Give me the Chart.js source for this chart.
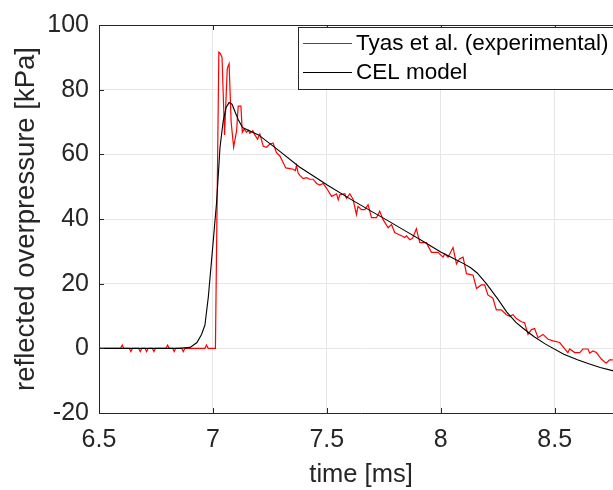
<!DOCTYPE html>
<html>
<head>
<meta charset="utf-8">
<script src="https://cdn.jsdelivr.net/npm/chart.js@4.4.1/dist/chart.umd.min.js"></script>
<style>
  html, body { margin: 0; padding: 0; overflow: hidden; background: #fff; }
  #wrap { width: 640px; height: 490px; }
</style>
</head>
<body>
<div id="wrap"><canvas id="chart" width="640" height="490"></canvas></div>
<script>
// Tyas et al. (experimental)
var expTime = [6.5, 6.595, 6.602, 6.609, 6.633, 6.64, 6.647, 6.674, 6.681, 6.688, 6.702, 6.709, 6.716,
    6.734, 6.741, 6.748, 6.794, 6.801, 6.808, 6.823, 6.83, 6.837, 6.863, 6.87, 6.877, 6.965, 6.972, 6.979,
    7.011, 7.026, 7.032, 7.040, 7.051, 7.063, 7.071, 7.080, 7.091, 7.104, 7.111, 7.123, 7.129, 7.137,
    7.148, 7.155, 7.162, 7.175, 7.184, 7.196, 7.206, 7.221, 7.236, 7.250, 7.264, 7.279, 7.294, 7.308,
    7.320, 7.338, 7.352, 7.362, 7.367, 7.374, 7.382, 7.396, 7.411, 7.425, 7.440, 7.455, 7.469, 7.484,
    7.499, 7.521, 7.543, 7.550, 7.557, 7.579, 7.586, 7.601, 7.615, 7.630, 7.637, 7.652, 7.667, 7.681,
    7.696, 7.718, 7.732, 7.747, 7.769, 7.784, 7.798, 7.813, 7.828, 7.842, 7.850, 7.864, 7.876, 7.893,
    7.908, 7.937, 7.959, 7.988, 8.010, 8.018, 8.032, 8.054, 8.069, 8.083, 8.098, 8.113, 8.142, 8.157,
    8.178, 8.193, 8.207, 8.229, 8.244, 8.266, 8.288, 8.303, 8.317, 8.332, 8.354, 8.368, 8.383, 8.398,
    8.412, 8.427, 8.449, 8.471, 8.493, 8.522, 8.558, 8.566, 8.588, 8.610, 8.624, 8.646, 8.654, 8.668,
    8.683, 8.705, 8.726, 8.741, 8.754, 8.8];
var expPressure = [0, 0, 1, 0, 0, -1, 0, 0, -1, 0, 0, -1, 0,
    0, -1, 0, 0, 1, 0, 0, -1, 0, 0, -1, 0, 0, 1, 0,
    0, 91.6, 91.2, 90, 66, 86.5, 88, 70, 62.2, 67.3, 74.9, 74.9, 66.8, 67.8,
    66.8, 67.5, 66.5, 67.3, 66.0, 64.7, 66.3, 62.5, 62.2, 63.2, 63.5, 60.5, 59.5, 57.5,
    55.8, 55.6, 55.4, 55.0, 56.6, 54.2, 53.5, 52.5, 52.8, 52.3, 52.3, 51.0, 50.5, 51.0,
    49.5, 47.0, 47.8, 45.9, 47.5, 47.8, 46.4, 47.8, 46.1, 41.4, 43.9, 42.9, 42.9, 44.4,
    40.4, 40.4, 42.4, 39.8, 37.3, 38.3, 35.8, 35.3, 34.8, 34.3, 34.8, 33.6, 34.0, 37.0,
    32.7, 32.7, 29.7, 29.7, 28.2, 29.2, 28.2, 31.2, 26.1, 27.7, 28.2, 23.1, 22.6, 18.5,
    19.6, 19.6, 16.5, 15.5, 11.9, 11.9, 10.4, 9.9, 10.4, 9.2, 8.2, 7.9, 4.3, 5.8,
    6.1, 3.3, 4.3, 2.8, 2.3, 1.8, -1.3, -0.2, -1.3, -1.3, -0.2, -0.2, -1.5, -0.8,
    -1.3, -3.3, -4.6, -3.6, -3.6, -3.0];

// CEL model
var celTime = [6.5, 6.85, 6.9, 6.93, 6.95, 6.965, 6.98, 7.0, 7.016, 7.031, 7.045, 7.058, 7.071, 7.084,
    7.098, 7.111, 7.13, 7.16, 7.2, 7.28, 7.38, 7.47, 7.5, 7.6, 7.7, 7.76, 7.85, 7.92, 8.0, 8.05, 8.1,
    8.13, 8.16, 8.2, 8.25, 8.29, 8.33, 8.36, 8.41, 8.46, 8.54, 8.6, 8.65, 8.7, 8.754, 8.8];
var celPressure = [0, 0, 0.3, 1.8, 4.3, 7.2, 16, 32, 45, 62, 70.3, 74.5, 76, 75.5,
    73, 70.8, 68.3, 67.3, 66, 61.7, 56.1, 52.0, 50.6, 46.3, 42.2, 39.8, 36.1, 33.2, 29.8, 28.0, 26.2,
    25.0, 23.3, 20.0, 15.3, 11.2, 8.0, 6.3, 3.6, 1.3, -1.8, -3.5, -4.8, -5.9, -6.9, -7.7];

var xTicks = [6.5, 7, 7.5, 8, 8.5];
var yTicks = [-20, 0, 20, 40, 60, 80, 100];
var seriesNames = ['Tyas et al. (experimental)', 'CEL model'];
var seriesColors = ['#ff0000', '#000000'];

var FONT = '"Liberation Sans", Arial, Helvetica, sans-serif';
var AXIS_COLOR = '#262626';

function toPoints(xs, ys) {
    return xs.map(function(x, i) { return { x: x, y: ys[i] }; });
}

// MATLAB style box: inner tick marks, top border, legend
var matlabBox = {
    id: 'matlabBox',
    afterDatasetsDraw: function(chart) {
        var ctx = chart.ctx;
        var a = chart.chartArea;
        var xs = chart.scales.x, ys = chart.scales.y;
        ctx.save();
        ctx.strokeStyle = AXIS_COLOR;
        ctx.lineWidth = 1;
        ctx.beginPath();
        ctx.moveTo(a.left, a.top + 0.5);
        ctx.lineTo(a.right, a.top + 0.5);
        xTicks.forEach(function(v) {
            var px = Math.round(xs.getPixelForValue(v)) + 0.5;
            ctx.moveTo(px, a.bottom);
            ctx.lineTo(px, a.bottom - 5);
            ctx.moveTo(px, a.top);
            ctx.lineTo(px, a.top + 5);
        });
        yTicks.forEach(function(v) {
            var py = Math.round(ys.getPixelForValue(v)) + 0.5;
            ctx.moveTo(a.left, py);
            ctx.lineTo(a.left + 5, py);
        });
        ctx.stroke();

        // legend box
        var lx = 298.5, ly = 27.5, lw = 320, lh = 62;
        ctx.fillStyle = '#ffffff';
        ctx.fillRect(lx, ly, lw, lh);
        ctx.strokeStyle = AXIS_COLOR;
        ctx.strokeRect(lx, ly, lw, lh);
        ctx.font = '22.5px ' + FONT;
        ctx.textBaseline = 'middle';
        ctx.textAlign = 'left';
        var rows = [44, 73];
        seriesNames.forEach(function(name, i) {
            ctx.strokeStyle = seriesColors[i];
            ctx.beginPath();
            ctx.moveTo(303, rows[i] - 0.5);
            ctx.lineTo(352, rows[i] - 0.5);
            ctx.stroke();
            ctx.fillStyle = '#000000';
            ctx.fillText(name, 356, rows[i]);
        });
        ctx.restore();
    }
};

new Chart(document.getElementById('chart'), {
    type: 'scatter',
    data: {
        datasets: [
            {
                label: seriesNames[0],
                data: toPoints(expTime, expPressure),
                showLine: true,
                borderColor: seriesColors[0],
                borderWidth: 1.2,
                pointRadius: 0,
                tension: 0,
                order: 2
            },
            {
                label: seriesNames[1],
                data: toPoints(celTime, celPressure),
                showLine: true,
                borderColor: seriesColors[1],
                borderWidth: 1.1,
                pointRadius: 0,
                tension: 0,
                order: 1
            }
        ]
    },
    options: {
        responsive: false,
        animation: false,
        devicePixelRatio: 1,
        layout: { padding: { top: 19, right: 17, left: 0, bottom: 0 } },
        plugins: {
            legend: { display: false },
            tooltip: { enabled: false }
        },
        scales: {
            x: {
                type: 'linear',
                min: 6.5,
                max: 8.8,
                afterBuildTicks: function(scale) {
                    scale.ticks = xTicks.map(function(v) { return { value: v }; });
                },
                afterFit: function(scale) { scale.height = 77; },
                grid: { color: '#e6e6e6', lineWidth: 1, drawTicks: false },
                border: { display: true, color: AXIS_COLOR, width: 1 },
                ticks: {
                    padding: 12,
                    maxRotation: 0,
                    autoSkip: false,
                    color: AXIS_COLOR,
                    font: { family: FONT, size: 25 },
                    callback: function(v) { return String(v); }
                },
                title: {
                    display: true,
                    text: 'time [ms]',
                    color: AXIS_COLOR,
                    font: { family: FONT, size: 25.5 },
                    padding: { top: 0, bottom: 0 }
                }
            },
            y: {
                type: 'linear',
                min: -20,
                max: 100,
                afterBuildTicks: function(scale) {
                    scale.ticks = yTicks.map(function(v) { return { value: v }; });
                },
                afterFit: function(scale) { scale.width = 99; },
                grid: { color: '#e6e6e6', lineWidth: 1, drawTicks: false },
                border: { display: true, color: AXIS_COLOR, width: 1 },
                ticks: {
                    padding: 10,
                    autoSkip: false,
                    color: AXIS_COLOR,
                    font: { family: FONT, size: 25 },
                    callback: function(v) { return String(v); }
                },
                title: {
                    display: true,
                    text: 'reflected overpressure [kPa]',
                    color: AXIS_COLOR,
                    font: { family: FONT, size: 27.5 },
                    padding: { top: 10, bottom: 0 }
                }
            }
        }
    },
    plugins: [matlabBox]
});
</script>
</body>
</html>
